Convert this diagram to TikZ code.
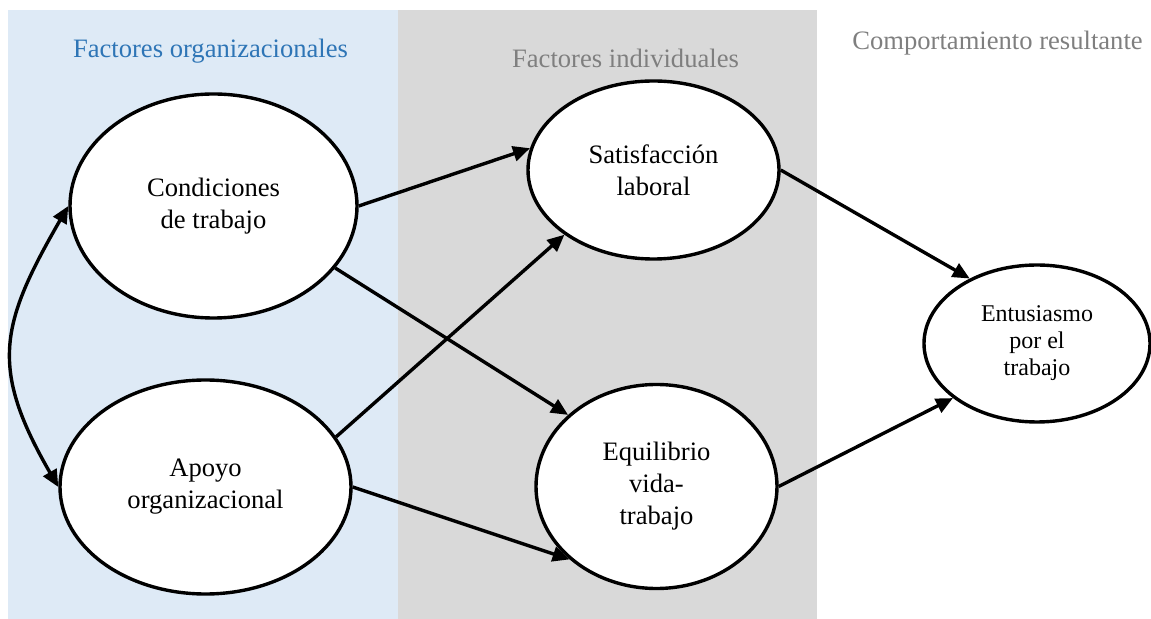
\documentclass[tikz,border=0pt]{standalone}
\usepackage{fontspec}
\setmainfont{Liberation Serif}
\usetikzlibrary{shapes.geometric,arrows.meta}
\definecolor{bandblue}{HTML}{DEEAF6}
\definecolor{bandgray}{HTML}{D9D9D9}
\definecolor{headblue}{HTML}{2E75B6}
\definecolor{headgray}{HTML}{7F7F7F}
\tikzset{%
  factor/.style={ellipse,draw,fill=white,line width=1.7pt,inner sep=0pt,
    align=center,font=\fontsize{13.3}{16}\selectfont},
  smallfactor/.style={factor,font=\fontsize{12}{13.5}\selectfont},
  head/.style={anchor=base,font=\fontsize{13.3}{16}\selectfont},
  link/.style={line width=1.7pt,->},
  >={Triangle[length=8.5pt,width=7.5pt]}
}

\begin{document}
\begin{tikzpicture}[x=0.5pt,y=-0.5pt]
  \useasboundingbox (0,0) rectangle (1151,619);
  % bands
  \fill[bandblue] (8,10) rectangle (398,619);
  \fill[bandgray] (398,10) rectangle (817,619);

  \node[head,color=headblue] (horg) at (210.5,58) {Factores organizacionales};
  \node[head,color=headgray] (hind) at (625.5,68) {Factores individuales};
  \node[head,color=headgray] (hres) at (997.5,50) {Comportamiento resultante};

  \node[factor,minimum width=143.5pt,minimum height=112pt] (cond) at (213.5,206) {Condiciones\\de trabajo};
  \node[factor,minimum width=145.5pt,minimum height=107pt] (apoyo) at (205.5,487) {Apoyo\\organizacional};
  \node[factor,minimum width=125.5pt,minimum height=89pt] (sat) at (653.5,170) {Satisfacción\\laboral};
  \node[factor,minimum width=120.5pt,minimum height=102pt] (equi) at (656.5,486.5) {Equilibrio\\vida-\\trabajo};
  \node[smallfactor,minimum width=113pt,minimum height=78.5pt] (ent) at (1037,343.5) {Entusiasmo\\por el\\trabajo};

  \draw[link] (cond.0) -- (sat.170);
  \draw[link] (cond.-27) -- (equi.141);
  \draw[link] (apoyo.21) -- (sat.216);
  \draw[link] (apoyo.0) -- (equi.220);
  \draw[link] (sat.0) -- (ent.136);
  \draw[link] (equi.0) -- (ent.213);
  \draw[link,<->] (cond.180) to[out=240,in=120,looseness=1.25] (apoyo.180);
\end{tikzpicture}
\end{document}
